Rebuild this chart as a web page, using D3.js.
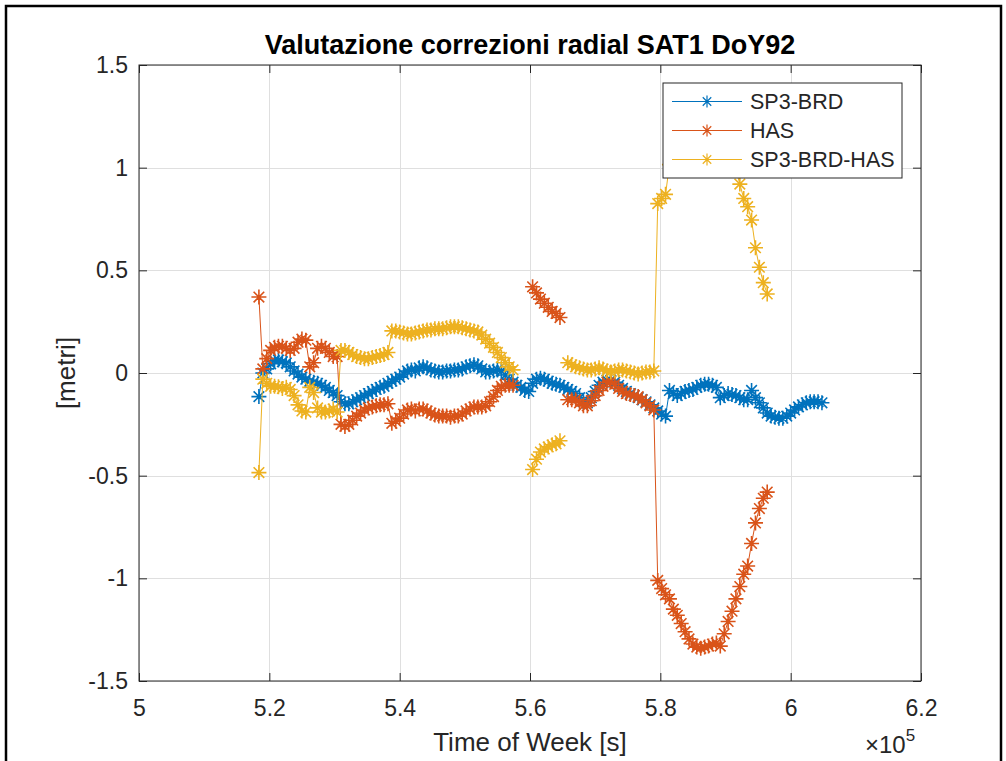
<!DOCTYPE html>
<meta charset="utf-8">
<style>
  body { margin: 0; background: #fff; }
  svg { display: block; font-family: "Liberation Sans", Arial, sans-serif; }
  .grid line { stroke: #dfdfdf; stroke-width: 1px; shape-rendering: crispEdges; }
  .axis path { display: none; }
  .axis line { stroke: #262626; stroke-width: 1px; }
  .axis text { fill: #262626; font-size: 23px; }
</style>
<body>
<script src="https://cdn.jsdelivr.net/npm/d3@7"></script>
<script>

// Time of week grid (s), one sample every 600 s from 518400 to 604800
var tow = d3.range(518400, 604801, 600);

// SP3-BRD radial correction [m]
var sp3brd = [
  -0.115, 0.0, 0.02, 0.045, 0.06, 0.063, 0.055, 0.049, 0.03, 0.01,
  -0.005, -0.02, -0.03, -0.04, -0.045, -0.05, -0.06, -0.07, -0.085, -0.095,
  -0.11, -0.14, -0.15, -0.15, -0.14, -0.13, -0.12, -0.11, -0.1, -0.09,
  -0.08, -0.07, -0.065, -0.05, -0.04, -0.03, -0.02, -0.005, 0.01, 0.015,
  0.01, 0.025, 0.03, 0.025, 0.015, 0.01, 0.005, 0.005, 0.01, 0.01,
  0.015, 0.015, 0.02, 0.03, 0.035, 0.04, 0.035, 0.02, 0.005, 0.005,
  0.01, 0.015, 0.01, -0.01, -0.03, -0.045, -0.06, -0.07, -0.085, -0.09,
  -0.05, -0.03, -0.025, -0.03, -0.04, -0.05, -0.055, -0.06, -0.07, -0.08,
  -0.09, -0.1, -0.12, -0.14, -0.145, -0.12, -0.09, -0.06, -0.045, -0.035,
  -0.035, -0.045, -0.06, -0.075, -0.09, -0.1, -0.11, -0.12, -0.13, -0.14,
  -0.155, -0.17, -0.185, -0.2, -0.21, -0.085, -0.1, -0.11, -0.1, -0.09,
  -0.085, -0.08, -0.07, -0.06, -0.055, -0.055, -0.06, -0.07, -0.12, -0.11,
  -0.1, -0.105, -0.11, -0.12, -0.13, -0.13, -0.085, -0.12, -0.145, -0.17,
  -0.195, -0.21, -0.215, -0.22, -0.22, -0.21, -0.195, -0.18, -0.165, -0.155,
  -0.145, -0.14, -0.14, -0.14, -0.145
];

// HAS radial correction [m]
var has = [
  0.37, 0.02, 0.07, 0.11, 0.125, 0.13, 0.13, 0.12, 0.11, 0.12,
  0.15, 0.165, 0.16, 0.03, 0.05, 0.12, 0.13, 0.12, 0.1, 0.08,
  0.08, -0.25, -0.26, -0.25, -0.23, -0.21, -0.195, -0.18, -0.17, -0.165,
  -0.16, -0.155, -0.155, -0.15, -0.245, -0.235, -0.22, -0.2, -0.18, -0.175,
  -0.185, -0.175, -0.175, -0.185, -0.195, -0.205, -0.21, -0.21, -0.21, -0.215,
  -0.21, -0.21, -0.2, -0.185, -0.175, -0.165, -0.165, -0.165, -0.16, -0.14,
  -0.115, -0.085, -0.065, -0.06, -0.06, -0.06, null, null, null, null,
  0.42, 0.39, 0.36, 0.34, 0.32, 0.3, 0.29, 0.27, null, -0.13,
  -0.13, -0.13, -0.145, -0.16, -0.16, -0.135, -0.11, -0.085, -0.065, -0.045,
  -0.04, -0.055, -0.075, -0.09, -0.1, -0.105, -0.11, -0.115, -0.13, -0.145,
  -0.16, -0.18, -1.01, -1.05, -1.08, -1.1, -1.15, -1.18, -1.22, -1.26,
  -1.295, -1.32, -1.335, -1.34, -1.335, -1.33, -1.32, -1.315, -1.33, -1.27,
  -1.21, -1.16, -1.1, -1.04, -0.98, -0.94, -0.83, -0.73, -0.66, -0.61,
  -0.58, null, null, null, null, null, null, null, null, null,
  null, null, null, null, null
];

// SP3-BRD-HAS [m]
var sp3brdHas = [
  -0.485, -0.03, -0.05, -0.065, -0.065, -0.067, -0.075, -0.07, -0.08, -0.11,
  -0.155, -0.185, -0.19, -0.07, -0.095, -0.17, -0.19, -0.19, -0.185, -0.175,
  -0.19, 0.11, 0.11, 0.1, 0.09, 0.08, 0.075, 0.07, 0.07, 0.075,
  0.08, 0.085, 0.09, 0.1, 0.205, 0.205, 0.2, 0.195, 0.19, 0.19,
  0.195, 0.2, 0.205, 0.21, 0.21, 0.215, 0.215, 0.215, 0.22, 0.225,
  0.225, 0.225, 0.22, 0.215, 0.21, 0.205, 0.2, 0.185, 0.165, 0.145,
  0.125, 0.1, 0.075, 0.05, 0.03, 0.015, null, null, null, null,
  -0.47, -0.42, -0.385, -0.37, -0.36, -0.35, -0.345, -0.33, null, 0.05,
  0.04, 0.03, 0.025, 0.02, 0.015, 0.015, 0.02, 0.025, 0.02, 0.01,
  0.005, 0.01, 0.015, 0.015, 0.01, 0.005, 0.0, -0.005, 0.0, 0.005,
  0.005, 0.01, 0.825, 0.85, 0.87, 1.015, 1.05, 1.07, 1.12, 1.17,
  1.21, 1.24, 1.265, 1.28, 1.28, 1.275, 1.26, 1.245, 1.21, 1.16,
  1.11, 1.055, 0.99, 0.92, 0.85, 0.81, 0.745, 0.61, 0.515, 0.44,
  0.385, null, null, null, null, null, null, null, null, null,
  null, null, null, null, null
];

var seriesNames = ["SP3-BRD", "HAS", "SP3-BRD-HAS"];
var seriesColors = ["#0072BD", "#D95319", "#EDB120"];

var xTicks = [500000, 520000, 540000, 560000, 580000, 600000, 620000];
var xTickLabels = ["5", "5.2", "5.4", "5.6", "5.8", "6", "6.2"];
var yTicks = [-1.5, -1, -0.5, 0, 0.5, 1, 1.5];
var yTickLabels = ["-1.5", "-1", "-0.5", "0", "0.5", "1", "1.5"];

var W = 1006, H = 761;
var plot = {left: 139, top: 65, right: 921, bottom: 681};

var svg = d3.select("body").append("svg")
    .attr("width", W)
    .attr("height", H);

// figure frame
svg.append("rect")
    .attr("x", 6).attr("y", 6)
    .attr("width", 995).attr("height", 770)
    .attr("fill", "#fff")
    .attr("stroke", "#000")
    .attr("stroke-width", 2.5);

var x = d3.scaleLinear().domain([500000, 620000]).range([plot.left, plot.right]);
var y = d3.scaleLinear().domain([-1.5, 1.5]).range([plot.bottom, plot.top]);

// Grid
var grid = svg.append("g").attr("class", "grid");
grid.selectAll(".gx").data(xTicks).enter().append("line")
    .attr("x1", function(d) { return Math.round(x(d)) + 0.5; })
    .attr("x2", function(d) { return Math.round(x(d)) + 0.5; })
    .attr("y1", plot.top).attr("y2", plot.bottom);
grid.selectAll(".gy").data(yTicks).enter().append("line")
    .attr("y1", function(d) { return Math.round(y(d)) + 0.5; })
    .attr("y2", function(d) { return Math.round(y(d)) + 0.5; })
    .attr("x1", plot.left).attr("x2", plot.right);

// Axes (inward ticks on all four sides)
var tickLen = 8;
svg.append("g")
    .attr("class", "axis")
    .attr("transform", "translate(0," + plot.bottom + ")")
    .call(d3.axisBottom(x).tickValues(xTicks).tickSize(-tickLen).tickPadding(19)
        .tickFormat(function(d, i) { return xTickLabels[i]; }));
svg.append("g")
    .attr("class", "axis")
    .attr("transform", "translate(0," + plot.top + ")")
    .call(d3.axisTop(x).tickValues(xTicks).tickSize(-tickLen).tickFormat(""));
svg.append("g")
    .attr("class", "axis")
    .attr("transform", "translate(" + plot.left + ",0)")
    .call(d3.axisLeft(y).tickValues(yTicks).tickSize(-tickLen).tickPadding(11)
        .tickFormat(function(d, i) { return yTickLabels[i]; }));
svg.append("g")
    .attr("class", "axis")
    .attr("transform", "translate(" + plot.right + ",0)")
    .call(d3.axisRight(y).tickValues(yTicks).tickSize(-tickLen).tickFormat(""));

// Data
var allSeries = [sp3brd, has, sp3brdHas];

var line = d3.line()
    .defined(function(d) { return d.v !== null; })
    .x(function(d) { return x(d.t); })
    .y(function(d) { return y(d.v); });

function asterisk(cx, cy, r) {
  var d = r * 0.7071;
  return "M" + (cx - r) + "," + cy + "H" + (cx + r) +
         "M" + cx + "," + (cy - r) + "V" + (cy + r) +
         "M" + (cx - d) + "," + (cy - d) + "L" + (cx + d) + "," + (cy + d) +
         "M" + (cx - d) + "," + (cy + d) + "L" + (cx + d) + "," + (cy - d);
}

var plotArea = svg.append("g");
allSeries.forEach(function(vals, i) {
  var pts = tow.map(function(t, k) { return {t: t, v: vals[k]}; });
  var g = plotArea.append("g");
  g.append("path")
      .datum(pts)
      .attr("fill", "none")
      .attr("stroke", seriesColors[i])
      .attr("stroke-width", 1)
      .attr("d", line);
  g.append("path")
      .attr("fill", "none")
      .attr("stroke", seriesColors[i])
      .attr("stroke-width", 1.6)
      .attr("d", pts.filter(function(p) { return p.v !== null; })
          .map(function(p) { return asterisk(x(p.t), y(p.v), 7.5); }).join(""));
});

// Box
svg.append("rect")
    .attr("x", plot.left).attr("y", plot.top)
    .attr("width", plot.right - plot.left).attr("height", plot.bottom - plot.top)
    .attr("fill", "none").attr("stroke", "#262626").attr("stroke-width", 1);

// Title
svg.append("text")
    .attr("x", (plot.left + plot.right) / 2)
    .attr("y", 54)
    .attr("text-anchor", "middle")
    .style("font-size", "27px")
    .style("font-weight", "bold")
    .attr("fill", "#000")
    .text("Valutazione correzioni radial SAT1 DoY92");

// X label
svg.append("text")
    .attr("x", (plot.left + plot.right) / 2)
    .attr("y", 751)
    .attr("text-anchor", "middle")
    .style("font-size", "26px")
    .attr("fill", "#262626")
    .text("Time of Week [s]");

// exponent
var ex = svg.append("text")
    .attr("x", 865)
    .attr("y", 753)
    .style("font-size", "24px")
    .attr("fill", "#262626");
ex.append("tspan").text("\u00d710");
ex.append("tspan").attr("dy", -12).style("font-size", "17px").text("5");

// Y label
svg.append("text")
    .attr("transform", "translate(66," + y(0) + ") rotate(-90)")
    .attr("text-anchor", "middle")
    .attr("dy", "0.35em")
    .style("font-size", "26px")
    .attr("fill", "#262626")
    .text("[metri]");

// Legend
var leg = svg.append("g").attr("transform", "translate(663,83)");
leg.append("rect")
    .attr("width", 239).attr("height", 95)
    .attr("fill", "#fff").attr("stroke", "#262626").attr("stroke-width", 1);
seriesNames.forEach(function(name, i) {
  var cy = 18.5 + i * 29;
  leg.append("line")
      .attr("x1", 9).attr("x2", 79).attr("y1", cy).attr("y2", cy)
      .attr("stroke", seriesColors[i]).attr("stroke-width", 1);
  leg.append("path")
      .attr("d", asterisk(44, cy, 6))
      .attr("fill", "none").attr("stroke", seriesColors[i]).attr("stroke-width", 1.2);
  leg.append("text")
      .attr("x", 87).attr("y", cy).attr("dy", "0.36em")
      .style("font-size", "21.5px").attr("fill", "#262626")
      .text(name);
});

</script>
</body>
